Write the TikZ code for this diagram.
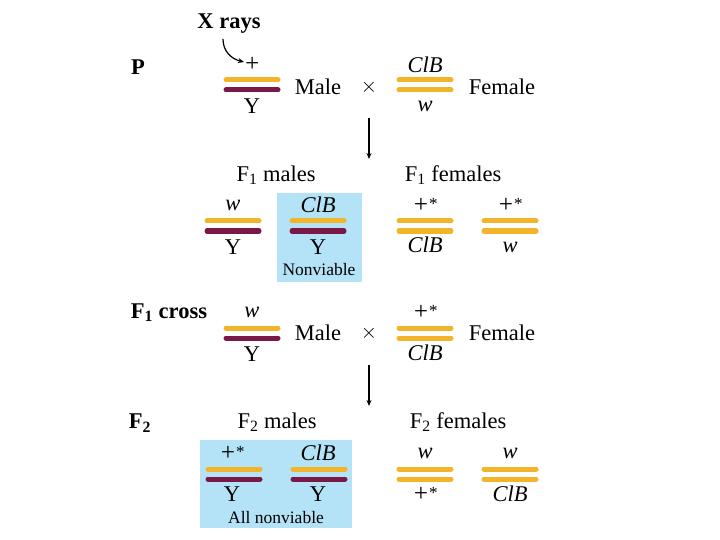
\documentclass[tikz,border=0pt]{standalone}
\usepackage{fontspec}
\setmainfont{Liberation Serif}
\usetikzlibrary{arrows.meta}
\definecolor{chrY}{RGB}{242,180,40}
\definecolor{chrP}{RGB}{122,24,72}
\definecolor{boxB}{RGB}{180,227,247}
\newcommand\plusmark{{\fontsize{25}{25}\selectfont\itshape +}}
\newcommand\plusstar{\plusmark\raisebox{3pt}{\fontsize{17}{17}\selectfont *}}
\tikzset{
  bar/.style={line width=5pt,line cap=round},
  lab/.style={inner sep=0pt,font=\fontsize{22.5}{22.5}\selectfont},
  ilab/.style={inner sep=0pt,font=\fontsize{22.5}{22.5}\selectfont\itshape},
  small/.style={inner sep=0pt,font=\fontsize{17.5}{17.5}\selectfont},
  bold/.style={inner sep=0pt,font=\fontsize{22.5}{22.5}\selectfont\bfseries},
  arr/.style={-{Stealth[length=6pt,width=5pt]},line width=1.5pt},
  pics/chrom/.style args={#1/#2}{code={
    \draw[bar,#1] (-26,0)--(26,0);
    \draw[bar,#2] (-26,10)--(26,10);}}
}
\begin{document}
\begin{tikzpicture}[x=1pt,y=-1pt]
\useasboundingbox (0,0) rectangle (720,540);
% blue boxes
\fill[boxB] (277,193) rectangle (362,282);
\fill[boxB] (200,440) rectangle (352,528);
% P row
\node[bold] (xr) at (229,24) {X rays};
\node[bold] (P) at (138,67) {P};
\node[lab] (pplus) at (252,64) {\plusmark};
\pic at (252,80) {chrom=chrY/chrP};
\node[lab] (pY) at (252,106) {Y};
\node[lab] (pmale) at (318,87) {Male};
\node[lab] (pcross) at (369,87) {$\times$};
\pic at (425,80) {chrom=chrY/chrY};
\node[ilab] (pClB) at (425,65) {ClB};
\node[ilab] (pw) at (425,106) {w};
\node[lab] (pfemale) at (502,87) {Female};
\coordinate (xs) at (223,39);
\coordinate (xe) at (244,62);
\draw[arr,line width=1.2pt] (xs) .. controls (223,52) and (232,59) .. (xe);
% arrow 1
\coordinate (a1s) at (369,118);
\coordinate (a1e) at (369,159);
\draw[arr] (a1s) -- (a1e);
% F1 row
\node[lab] (f1m) at (276,175) {F\textsubscript{1} males};
\node[lab] (f1f) at (453,175) {F\textsubscript{1} females};
\pic at (233,221) {chrom=chrY/chrP};
\node[ilab] (m1w) at (233,205) {w};
\node[lab] (m1Y) at (233,247) {Y};
\pic at (318,221) {chrom=chrY/chrP};
\node[ilab] (m2ClB) at (318,205) {ClB};
\node[lab] (m2Y) at (318,247) {Y};
\node[small] (nv) at (319,270) {Nonviable};
\pic at (425,221) {chrom=chrY/chrY};
\node[lab] (f1a) at (425,205) {\plusstar};
\node[ilab] (f1b) at (425,245) {ClB};
\pic at (510,221) {chrom=chrY/chrY};
\node[lab] (f2a) at (510,205) {\plusstar};
\node[ilab] (f2b) at (510,247) {w};
% F1 cross row
\node[bold] (f1c) at (169,313) {F\textsubscript{1} cross};
\pic at (252,328) {chrom=chrY/chrP};
\node[ilab] (cw) at (252,312) {w};
\node[lab] (cY) at (252,354) {Y};
\node[lab] (cmale) at (318,333) {Male};
\node[lab] (ccross) at (369,333) {$\times$};
\pic at (425,328) {chrom=chrY/chrY};
\node[lab] (cplus) at (425,312) {\plusstar};
\node[ilab] (cClB) at (425,353) {ClB};
\node[lab] (cfemale) at (502,333) {Female};
% arrow 2
\coordinate (a2s) at (369,365);
\coordinate (a2e) at (369,406);
\draw[arr] (a2s) -- (a2e);
% F2 row
\node[bold] (F2) at (140,423) {F\textsubscript{2}};
\node[lab] (f2m) at (277,422) {F\textsubscript{2} males};
\node[lab] (f2f) at (458,422) {F\textsubscript{2} females};
\pic at (234,469) {chrom=chrY/chrP};
\node[lab] (ga) at (232,453) {\plusstar};
\node[lab] (gaY) at (232,494) {Y};
\pic at (319,469) {chrom=chrY/chrP};
\node[ilab] (gb) at (318,453) {ClB};
\node[lab] (gbY) at (318,494) {Y};
\node[small] (anv) at (276,518) {All nonviable};
\pic at (425,469) {chrom=chrY/chrY};
\node[ilab] (gc) at (425,453) {w};
\node[lab] (gcb) at (425,494) {\plusstar};
\pic at (510,469) {chrom=chrY/chrY};
\node[ilab] (gd) at (510,453) {w};
\node[ilab] (gdb) at (510,494) {ClB};
\end{tikzpicture}
\end{document}
